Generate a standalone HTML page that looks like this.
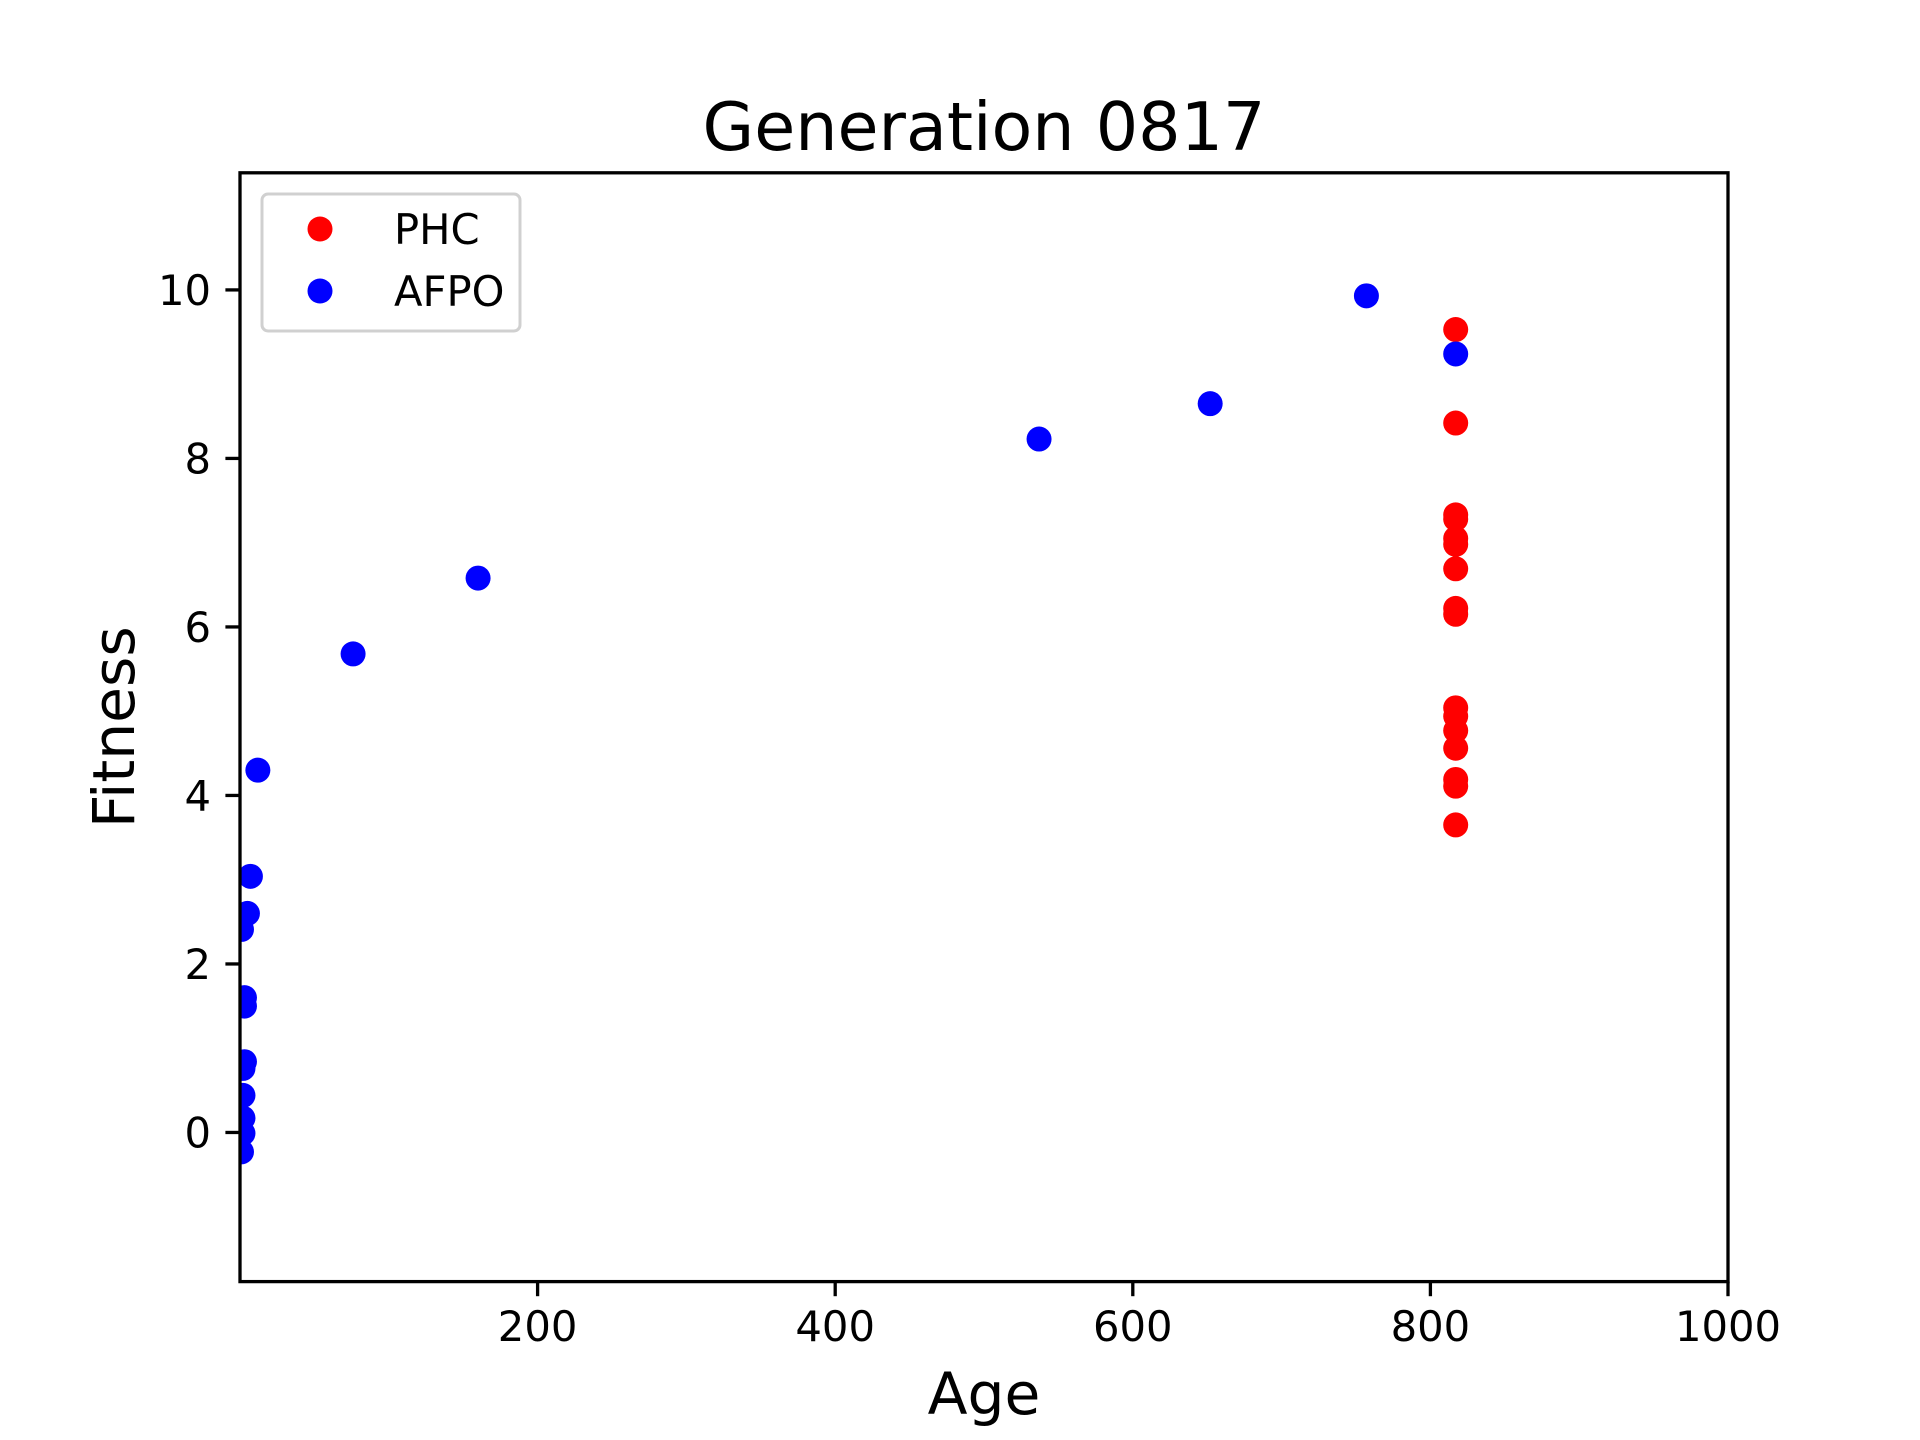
<!DOCTYPE html>
<html><head><meta charset="utf-8"><style>
html,body{margin:0;padding:0;background:#fff;}
svg{display:block;font-family:"DejaVu Sans","Liberation Sans",sans-serif;}
</style></head><body>
<svg id="chart" width="1920" height="1440" viewBox="0 0 1920 1440">
<rect width="1920" height="1440" fill="#fff"/>
<g id="marks"></g>
<g id="axes"></g>
</svg>
<script>
const xTicks=[200,400,600,800,1000];
const yTicks=[0,2,4,6,8,10];
const phcAge=[817,817,817,817,817,817,817,817,817,817,817,817,817,817,817,817];
const phcFit=[9.53,8.42,7.33,7.28,7.05,6.98,6.69,6.22,6.15,5.04,4.94,4.77,4.56,4.19,4.11,3.65];
const afpoAge=[757,817,652,537,160,76,12,7,5,1,3,3,3,2,2,2,2,1];
const afpoFit=[9.93,9.24,8.65,8.23,6.58,5.68,4.30,3.04,2.60,2.41,1.60,1.50,0.84,0.76,0.44,0.17,-0.01,-0.23];
const L=240,R=1728,T=172.8,B=1281.6;
const xMin=0,xMax=1000,yMin=-1.77,yMax=11.39;
const sx=v=>L+(v-xMin)/(xMax-xMin)*(R-L);
const sy=v=>B-(v-yMin)/(yMax-yMin)*(B-T);
const NS='http://www.w3.org/2000/svg';
function mk(tag,attrs,parent,text){const e=document.createElementNS(NS,tag);for(const k in attrs)e.setAttribute(k,attrs[k]);if(text!==undefined)e.textContent=text;parent.appendChild(e);return e;}
const marks=document.getElementById('marks'),axes=document.getElementById('axes');
const clip=mk('clipPath',{id:'clp'},marks);mk('rect',{x:L,y:T,width:R-L,height:B-T},clip);
const g=mk('g',{'clip-path':'url(#clp)'},marks);
phcAge.forEach((a,i)=>{const c=mk('circle',{cx:sx(a),cy:sy(phcFit[i]),r:12.5,fill:'#ff0000'},g);

});
afpoAge.forEach((a,i)=>{const c=mk('circle',{cx:sx(a),cy:sy(afpoFit[i]),r:12.5,fill:'#0000ff'},g);

});
const frame=mk('rect',{x:L,y:T,width:R-L,height:B-T,fill:'none',stroke:'#000','stroke-width':3.3},axes);


xTicks.forEach(v=>{const x=sx(v);mk('line',{x1:x,x2:x,y1:B,y2:B+14.6,stroke:'#000','stroke-width':3.3},axes);
const t=mk('text',{x:x,y:1341,'text-anchor':'middle','font-size':41.7},axes,String(v));

});
yTicks.forEach(v=>{const y=sy(v);mk('line',{x1:L-14.6,x2:L,y1:y,y2:y,stroke:'#000','stroke-width':3.3},axes);
const t=mk('text',{x:211,y:y+15,'text-anchor':'end','font-size':41.7},axes,String(v));

});
const tt=mk('text',{x:(L+R)/2,y:150,'text-anchor':'middle','font-size':66.7},axes,'Generation 0817');


const xl=mk('text',{x:(L+R)/2,y:1414,'text-anchor':'middle','font-size':58.3},axes,'Age');


const yl=mk('text',{x:0,y:0,'text-anchor':'middle','font-size':58.3,transform:`translate(134,${(T+B)/2}) rotate(-90)`},axes,'Fitness');


const lg=mk('g',{},axes);


mk('rect',{x:262,y:194,width:258,height:137,rx:6,fill:'#fff',stroke:'#ccc','stroke-width':3,opacity:0.9},lg);
const series=[['PHC','#ff0000',229],['AFPO','#0000ff',291]];
series.forEach(s=>{const e=mk('g',{},lg);


mk('circle',{cx:320,cy:s[2],r:12.5,fill:s[1]},e);
mk('text',{x:394,y:s[2]+15,'font-size':41.7},e,s[0]);});
</script>
</body></html>
